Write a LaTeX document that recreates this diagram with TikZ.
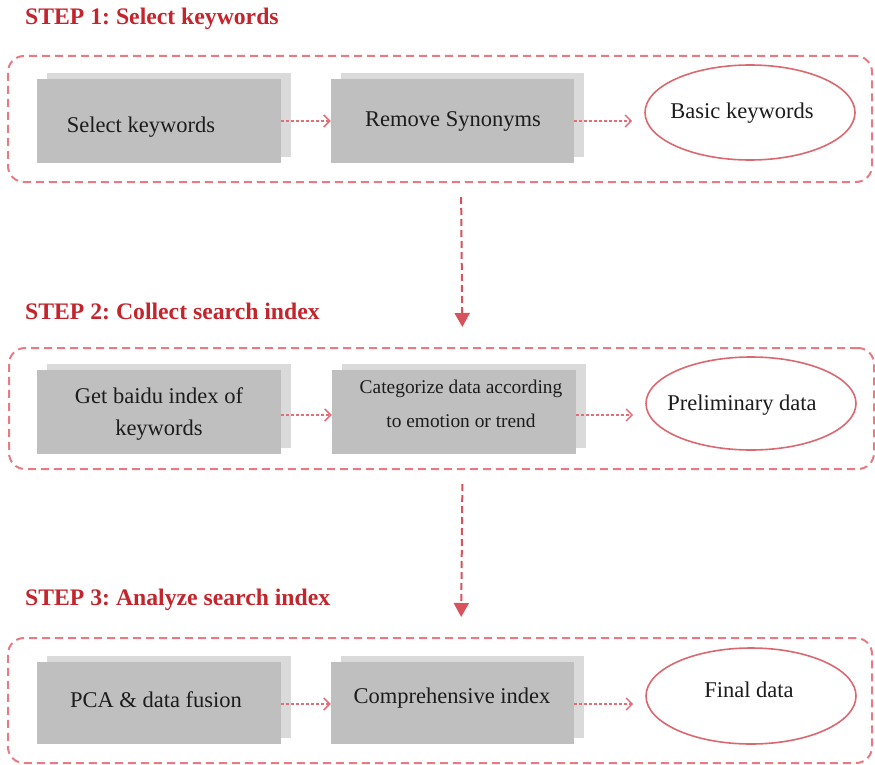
\documentclass[tikz,border=0pt]{standalone}
\usepackage{fontspec}
\setmainfont{Liberation Serif}
\usetikzlibrary{arrows.meta,shapes.geometric,shadows}
\frenchspacing

\definecolor{steptitle}{RGB}{196,36,44}
\definecolor{framered}{RGB}{232,122,132}
\definecolor{ovalred}{RGB}{218,104,112}
\definecolor{linkred}{RGB}{226,110,120}
\definecolor{downred}{RGB}{216,82,92}
\definecolor{boxgray}{RGB}{191,191,191}
\definecolor{shadowgray}{RGB}{218,218,218}
\definecolor{inktext}{RGB}{28,28,28}

\tikzset{
  steplabel/.style={anchor=base west, inner sep=0pt, text=steptitle,
    font=\fontsize{23.7}{28}\selectfont\bfseries},
  stageframe/.style={rectangle, draw=framered, line width=2pt,
    dash pattern=on 8pt off 5pt, rounded corners=16pt, inner sep=0pt},
  taskbox/.style={rectangle, fill=boxgray, inner sep=0pt,
    minimum width=244pt, minimum height=84pt,
    general shadow={fill=shadowgray, shadow xshift=10pt, shadow yshift=6pt}},
  resultoval/.style={ellipse, draw=ovalred, line width=1.6pt, fill=white,
    inner sep=0pt, minimum width=210pt, minimum height=95pt},
  boxtext/.style={inner sep=0pt, text=inktext, align=center,
    font=\fontsize{22.5}{32}\selectfont},
  hlink/.style={draw=linkred, line width=1.4pt, dash pattern=on 3pt off 2pt,
    -{Straight Barb[length=6pt,width=12pt,line width=1.5pt]}},
  vlink/.style={draw=downred, line width=2pt, dash pattern=on 7pt off 4pt,
    -{Triangle[length=14pt,width=15pt]}, shorten <=14pt, shorten >=20pt}
}

\begin{document}
\begin{tikzpicture}[x=1pt,y=-1pt]
\useasboundingbox (0,0) rectangle (875,765);

% ---- step titles
\node[steplabel] (t1) at (25,25)  {STEP 1: Select keywords};
\node[steplabel] (t2) at (25,319) {STEP 2: Collect search index};
\node[steplabel] (t3) at (25,605) {STEP 3: Analyze search index};

% ---- dashed stage frames
\node[stageframe, minimum width=864pt, minimum height=126pt] (g1) at (440,119) {};
\node[stageframe, minimum width=865pt, minimum height=121pt] (g2) at (441.5,408.5) {};
\node[stageframe, minimum width=864pt, minimum height=125pt] (g3) at (440,700.5) {};

% ---- stage 1
\node[taskbox] (b1) at (159,121) {};
\node[taskbox, minimum width=243pt] (b2) at (452.5,121) {};
\node[resultoval] (e1) at (750,112.5) {};
\node[boxtext, anchor=base] (x1) at (141,132) {Select keywords};
\node[boxtext, anchor=base] (x2) at (453,127) {Remove Synonyms};
\node[boxtext, anchor=base] (x3) at (742,119) {Basic keywords};

% ---- stage 2
\node[taskbox] (b3) at (159,412) {};
\node[taskbox] (b4) at (454,412) {};
\node[resultoval, minimum height=93pt] (e2) at (751,403.5) {};
\node[boxtext] (x4) at (159,414) {Get baidu index of\\keywords};
\node[boxtext, font=\fontsize{19.4}{34}\selectfont] (x5) at (461,403.5)
  {Categorize data according\\to emotion or trend};
\node[boxtext, anchor=base] (x6) at (742,410) {Preliminary data};

% ---- stage 3
\node[taskbox, minimum height=82pt] (b5) at (159,703) {};
\node[taskbox, minimum width=243pt, minimum height=82pt] (b6) at (452.5,703) {};
\node[resultoval, minimum height=96pt] (e3) at (751,696) {};
\node[boxtext, anchor=base] (x7) at (156,707) {PCA \& data fusion};
\node[boxtext, anchor=base] (x8) at (452,703) {Comprehensive index};
\node[boxtext, anchor=base] (x9) at (749,697) {Final data};

% ---- links inside each stage
\draw[hlink] (b1) -- (b2);
\draw[hlink, shorten >=12pt] (b2) -- (b2 -| e1.west);
\draw[hlink] (b3.east |- 0,415) -- (b4.west |- 0,415);
\draw[hlink, shorten >=12pt] (b4.east |- 0,415) -- (e2.west |- 0,415);
\draw[hlink] (b5.east |- 0,704) -- (b6.west |- 0,704);
\draw[hlink, shorten >=12pt] (b6.east |- 0,704) -- (e3.west |- 0,704);

% ---- links between stages
\draw[vlink] ([xshift=21pt]g1.south) -- ([xshift=21pt]g2.north);
\draw[vlink] ([xshift=21pt]g2.south) -- ([xshift=21pt]g3.north);
\end{tikzpicture}
\end{document}
